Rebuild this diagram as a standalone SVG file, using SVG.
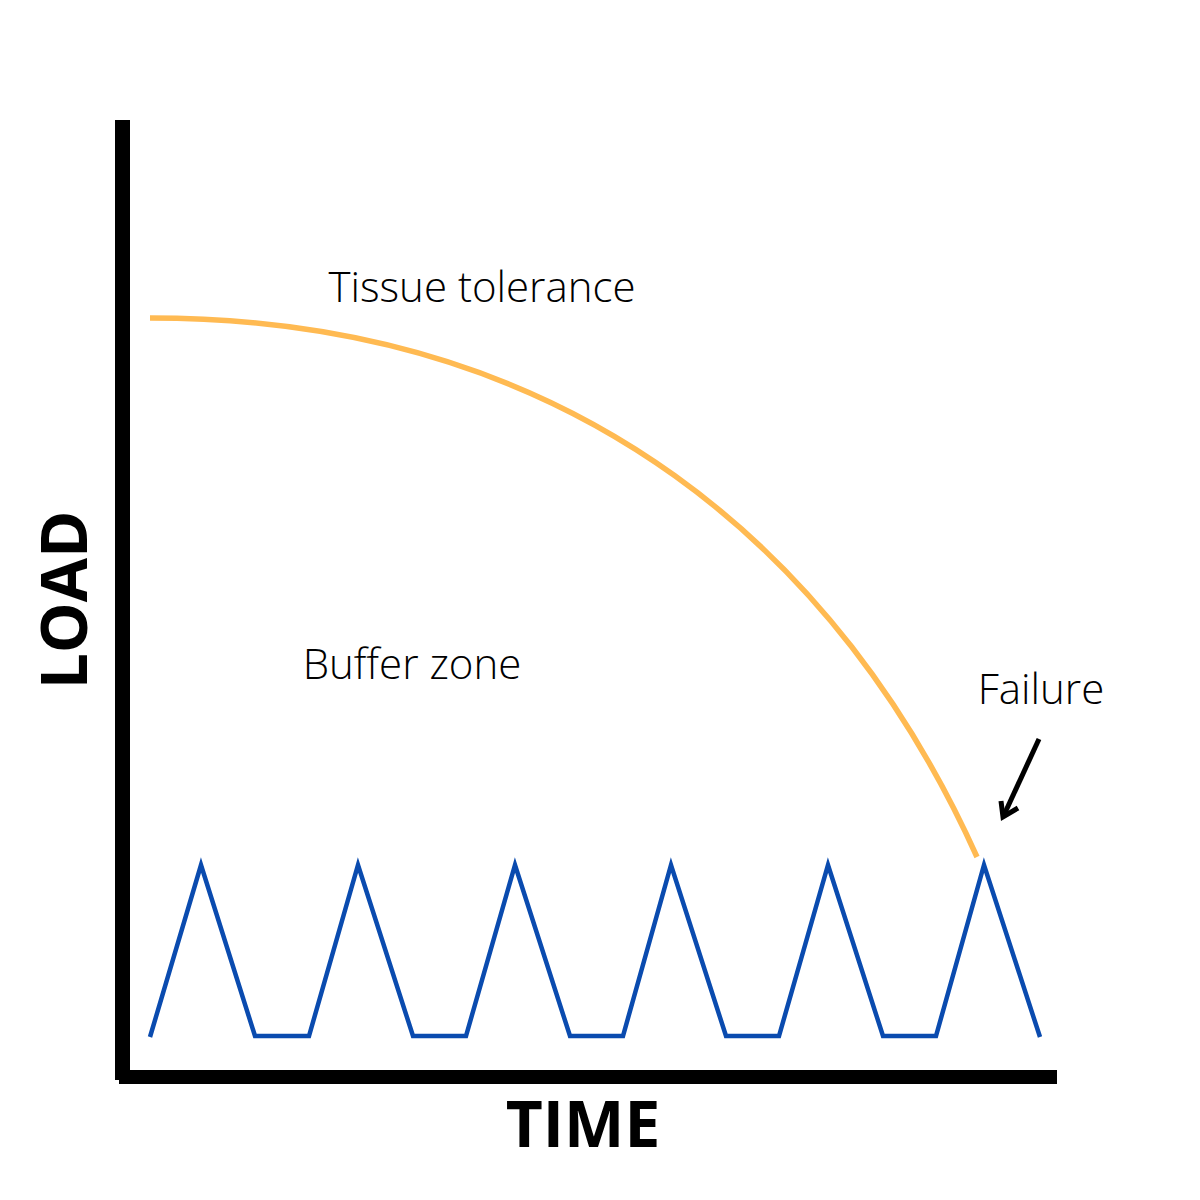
<svg xmlns="http://www.w3.org/2000/svg" width="1200" height="1200" viewBox="0 0 1200 1200">
<style>
.lbl{font-family:"Open Sans","Liberation Sans",sans-serif;font-weight:300;font-size:42px;fill:#000}
.ax{font-family:"Open Sans","Liberation Sans",sans-serif;font-weight:700;font-size:64px;fill:#000}
.axis{fill:#000}
.load{fill:none;stroke:#0A4BAF;stroke-width:4.5;stroke-linejoin:miter}
.tol{fill:none;stroke:#FFBA52;stroke-width:5.5}
.arrow{fill:none;stroke:#000;stroke-width:5;stroke-linecap:butt}
</style>
<rect width="1200" height="1200" fill="#fff"/>
<g id="axes">
<rect class="axis" x="115" y="120" width="15" height="960"/>
<rect class="axis" x="119" y="1070" width="938" height="14"/>
</g>
<g id="axis-labels">
<text class="ax" x="0" y="0" text-anchor="middle" transform="translate(87,600) rotate(-90)">LOAD</text>
<text class="ax" x="583" y="1147" text-anchor="middle">TIME</text>
</g>
<g id="tissue-tolerance">
<path class="tol" d="M150,318 C581,318 843,559 977,857"/>
<text class="lbl" x="482" y="302" text-anchor="middle">Tissue tolerance</text>
</g>
<g id="load-cycles">
<polyline class="load" points="150,1037 201,865 255,1036 309,1036 358,865 413,1036 466,1036 515,865 570,1036 623,1036 671,865 726,1036 779,1036 828,865 883,1036 936,1036 984,865 1040,1037"/>
</g>
<g id="buffer-zone">
<text class="lbl" x="412" y="679" text-anchor="middle">Buffer zone</text>
</g>
<g id="failure">
<text class="lbl" x="1041" y="704" text-anchor="middle">Failure</text>
</g>
<g id="connectors">
<path class="arrow" d="M1039,739 L1004,815"/>
<path class="arrow" d="M1001,801 L1003,817 L1018,808"/>
</g>
</svg>
